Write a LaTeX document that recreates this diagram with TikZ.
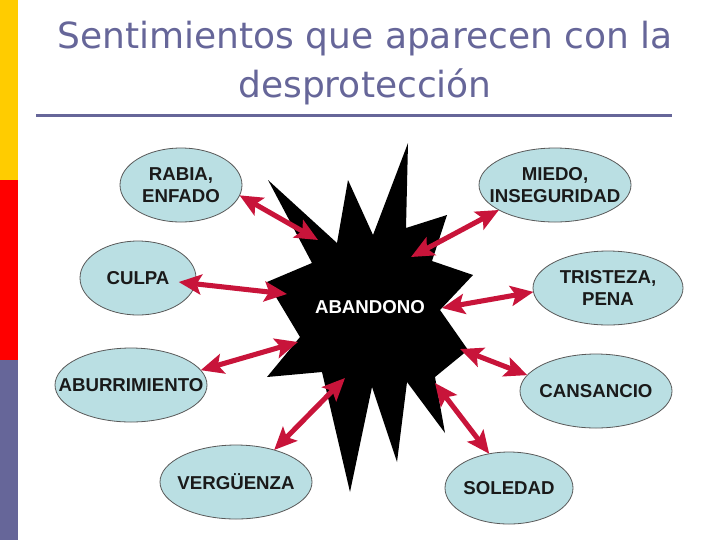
\documentclass[tikz,border=0pt]{standalone}
\usepackage{fontspec}
\setmainfont{Liberation Sans}
\newfontfamily\titlefont{DejaVu Sans}
\usetikzlibrary{shapes.geometric,arrows.meta}
\definecolor{slate}{HTML}{666699}
\definecolor{barY}{HTML}{FFCC00}
\definecolor{barR}{HTML}{FF0000}
\definecolor{cyanfill}{HTML}{BADFE3}
\definecolor{crim}{HTML}{C8143A}
\definecolor{inkdark}{HTML}{1A1A1A}
\tikzset{
  feel/.style={ellipse, draw=black!65, line width=0.6pt, fill=cyanfill, inner sep=0pt, outer sep=0pt},
  feeltext/.style={text=inkdark, align=center, inner sep=0pt,
    font=\bfseries\fontsize{14}{16.5}\selectfont},
  biarrow/.style={crim, line width=3.8pt,
    {Stealth[length=17pt,width=15pt,inset=3.5pt]}-{Stealth[length=17pt,width=15pt,inset=3.5pt]}},
  titletext/.style={text=slate, font=\titlefont\fontsize{27}{36}\selectfont, inner sep=0pt}
}
\begin{document}
\begin{tikzpicture}[x=0.75pt, y=-0.75pt]
\useasboundingbox (0,0) rectangle (720,540);
\fill[white] (0,0) rectangle (720,540);
% left bar
\fill[barY] (0,0) rectangle (18,180);
\fill[barR] (0,180) rectangle (18,360);
\fill[slate] (0,360) rectangle (18,540);
% title
\node[titletext, anchor=base] (t1) at (365,48) {Sentimientos que aparecen con la};
\node[titletext, anchor=base] (t2) at (365,97) {desprotección};
\draw[slate, line width=2.25pt] (36,115) -- (672,115);
% star
\fill[black] (268,180) -- (337,243) -- (348,180) -- (373,235) -- (408,143) -- (406,228)
  -- (447,215) -- (432,261) -- (473,275) -- (440,310) -- (468,350) -- (435,377)
  -- (445,433) -- (407,382) -- (397,462) -- (372,387) -- (350,492)
  -- (322,372) -- (267,377) -- (300,337) -- (267,282) -- (312,263) -- cycle;
\node[text=white, font=\bfseries\fontsize{14}{16}\selectfont] (aband) at (370,307) {ABANDONO};
% ellipses
\node[feel, minimum width=91.5pt, minimum height=55.5pt,
  label={[feeltext]center:RABIA,\\ENFADO}] (rabia) at (181,185) {};
\node[feel, minimum width=87pt, minimum height=55.5pt,
  label={[feeltext]center:CULPA}] (culpa) at (138,278) {};
\node[feel, minimum width=114pt, minimum height=55.5pt,
  label={[feeltext]center:ABURRIMIENTO}] (aburr) at (131,385) {};
\node[feel, minimum width=114pt, minimum height=55.5pt,
  label={[feeltext]center:VERGÜENZA}] (verg) at (236,482) {};
\node[feel, minimum width=114pt, minimum height=55.5pt,
  label={[feeltext]center:MIEDO,\\INSEGURIDAD}] (miedo) at (555,185) {};
\node[feel, minimum width=112.5pt, minimum height=55.5pt,
  label={[feeltext]center:TRISTEZA,\\PENA}] (trist) at (608,288) {};
\node[feel, minimum width=114pt, minimum height=55.5pt,
  label={[feeltext]center:CANSANCIO}] (cans) at (596,391) {};
\node[feel, minimum width=96pt, minimum height=54pt,
  label={[feeltext]center:SOLEDAD}] (soled) at (509,488) {};
% star ends
\coordinate (sRabia) at (318,240);
\coordinate (sMiedo) at (411,257);
\coordinate (sCulpa) at (287,294);
\coordinate (sTrist) at (442,308);
\coordinate (sAburr) at (298,342);
\coordinate (sVerg) at (345,378);
\coordinate (sCans) at (460,349);
\coordinate (sSol) at (435,383);
% arrows
\draw[biarrow] (rabia.-10) -- (sRabia);
\draw[biarrow] ([xshift=-13pt,yshift=-3pt]culpa.east) -- (sCulpa);
\draw[biarrow] (aburr.12) -- (sAburr);
\draw[biarrow] (verg.40) -- (sVerg);
\draw[biarrow] (miedo.204) -- (sMiedo);
\draw[biarrow] (trist.183) -- (sTrist);
\draw[biarrow] (cans.167) -- (sCans);
\draw[biarrow] (soled.120) -- (sSol);
\end{tikzpicture}
\end{document}
